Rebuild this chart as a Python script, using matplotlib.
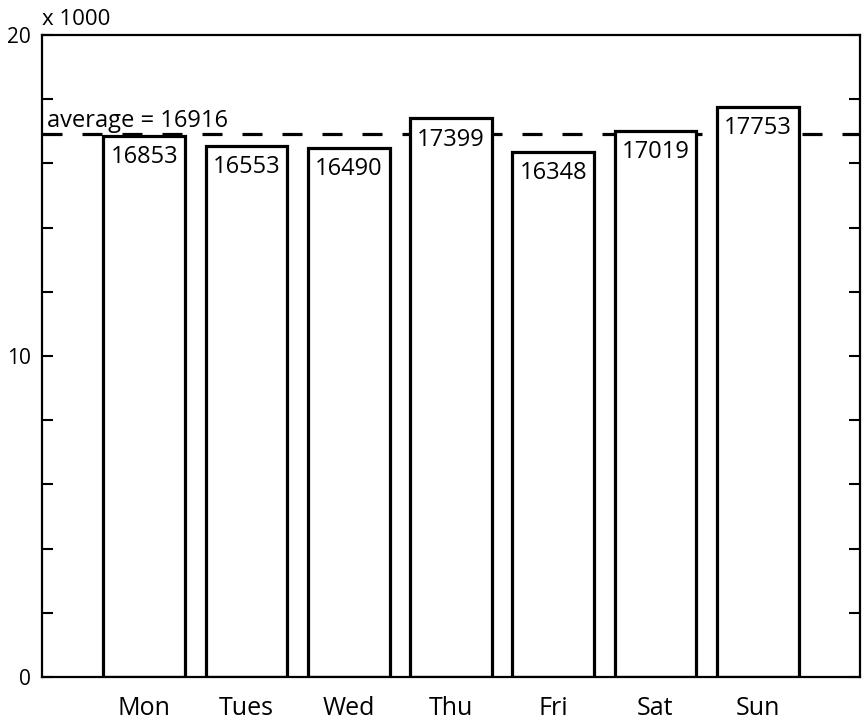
import numpy as np
import matplotlib
matplotlib.use("Agg")
import matplotlib.pyplot as plt
from matplotlib.ticker import MultipleLocator, FuncFormatter

# datos
dias = ["Mon", "Tues", "Wed", "Thu", "Fri", "Sat", "Sun"]
valores = [16853, 16553, 16490, 17399, 16348, 17019, 17753]
promedio = 16916

plt.rcParams['font.family'] = ['Open Sans', 'DejaVu Sans']
plt.rcParams['lines.scale_dashes'] = False

fig = plt.figure(figsize=(8.67, 7.25), dpi=100)
ax = fig.add_axes([42/867, 1 - 677/725, (860 - 42)/867, (677 - 35)/725])

x = np.arange(1, len(dias) + 1)

# línea del promedio (detrás de las barras)
ax.plot([0, 8], [promedio, promedio], color='black', linewidth=2.3,
        dashes=(14.4, 14.4), zorder=1, solid_capstyle='butt')
ax.annotate(f"average = {promedio}", xy=(0, promedio), xytext=(3.5, 1),
            textcoords='offset points', ha='left', va='bottom', fontsize=17)

barras = ax.bar(x, valores, width=0.8, color='white', edgecolor='black',
                linewidth=2.3, zorder=2)

# etiquetas de valor dentro de cada barra
for xi, v in zip(x, valores):
    ax.annotate(str(v), xy=(xi, v), xytext=(0, -6.5), textcoords='offset points',
                ha='center', va='top', fontsize=17, zorder=3)

ax.set_xlim(0, 8)
ax.set_ylim(0, 20000)
ax.set_xticks(x)
ax.set_xticklabels(dias, fontsize=18)
ax.tick_params(axis='x', length=0, pad=14)

ax.yaxis.set_major_locator(MultipleLocator(10000))
ax.yaxis.set_minor_locator(MultipleLocator(2000))
ax.yaxis.set_major_formatter(FuncFormatter(lambda v, p: f"{int(v/1000)}"))
ax.tick_params(axis='y', which='both', direction='in', left=True, right=True,
               length=8, width=1.5, labelsize=15, pad=8)

for s in ax.spines.values():
    s.set_linewidth(1.6)

ax.text(0, 1.008, "x 1000", transform=ax.transAxes, ha='left', va='bottom',
        fontsize=16)

fig.savefig("out.png", dpi=100)
